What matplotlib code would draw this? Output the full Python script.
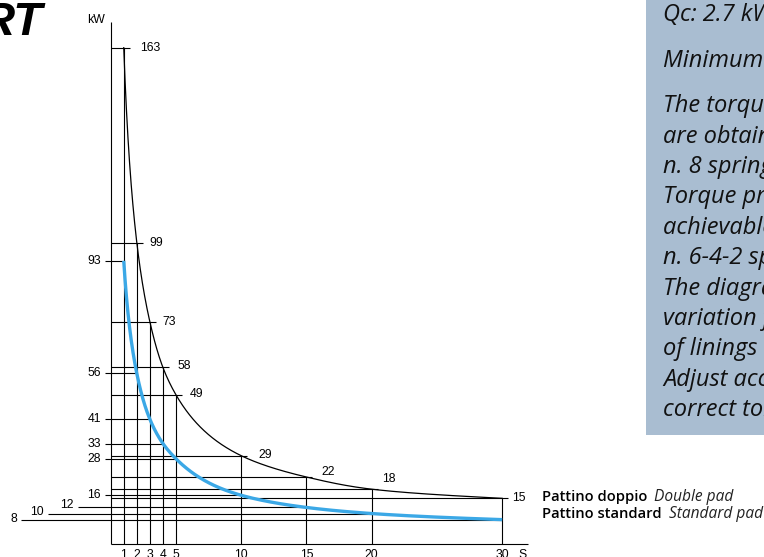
import numpy as np
import matplotlib
matplotlib.use('Agg')
import matplotlib.pyplot as plt
from matplotlib.patches import Rectangle

# ---------------- data ----------------
times = [1, 2, 3, 4, 5, 10, 15, 20, 30]                 # s
double_pad_kw = [163, 99, 73, 58, 49, 29, 22, 18, 15]   # Pattino doppio
standard_pad_kw = [93, 56, 41, 33, 28, 16, 12, 10, 8]   # Pattino standard
x_tick_labels = ['1', '2', '3', '4', '5', '10', '15', '20', '30']

box_lines = [
    "Qc: 2.7 kW/s",
    "Minimum clearance",
    "The torque values shown",
    "are obtained with",
    "n. 8 springs.",
    "Torque proportionally",
    "achievable with",
    "n. 6-4-2 springs.",
    "The diagram shows the",
    "variation for the type",
    "of linings used.",
    "Adjust according to the",
    "correct torque.",
]

# ---------------- layout (pixels) ----------------
W, H, DPI = 764, 557, 100
X0_PX, X_SCALE = 110.7, 13.05    # px of t=0, px per second
Y0_PX, Y_SCALE = 544.0, 3.045    # px (from top) of 0 kW, px per kW

fig = plt.figure(figsize=(W / DPI, H / DPI), dpi=DPI)
ax = fig.add_axes([0, 0, 1, 1])
ax.set_xlim((0 - X0_PX) / X_SCALE, (W - X0_PX) / X_SCALE)
ax.set_ylim((Y0_PX - H) / Y_SCALE, Y0_PX / Y_SCALE)
ax.axis('off')


def xpx(px):
    return (px - X0_PX) / X_SCALE


def ypx(py):
    return (Y0_PX - py) / Y_SCALE


def dx(p):
    return p / X_SCALE


def dy(p):
    return p / Y_SCALE


NUM_FONT = dict(family=['Liberation Sans', 'DejaVu Sans'], fontsize=8.8, color='black')
LW = 0.8

# axes
ax.plot([0, 0], [0, ypx(22)], color='black', lw=LW, solid_capstyle='butt')
ax.plot([0, xpx(528)], [0, 0], color='black', lw=LW, solid_capstyle='butt')
ax.text(xpx(105), ypx(20), 'kW', ha='right', va='center', **NUM_FONT)
ax.text(xpx(523), ypx(549), 'S', ha='center', va='top', **NUM_FONT)

# x tick labels
for t, lab in zip(times, x_tick_labels):
    ax.text(t, ypx(549), lab, ha='center', va='top', **NUM_FONT)

# vertical lines up to double pad curve
for t, top in zip(times, double_pad_kw):
    ax.plot([t, t], [0, top], color='black', lw=LW, solid_capstyle='butt')

# double pad horizontal lines + labels (right side)
dp_label_dx = [16, 13, 13, 15, 14, 17, 15, 10, 10]
dp_label_dy = [0, 0, 0, 1, 1, 1, 5, 10, 0]
for t, v, ox, oy in zip(times, double_pad_kw, dp_label_dx, dp_label_dy):
    ax.plot([0, t + dx(6)], [v, v], color='black', lw=LW, solid_capstyle='butt')
    ax.text(t + dx(ox), v + dy(oy), str(v), ha='left', va='center', **NUM_FONT)

# standard pad horizontal lines + labels (left side)
sp_line_start = [105, 105, 105, 105, 105, 105, 78, 48, 21]
sp_label_dy = [0, 0, 0, 0, 0, 0, 2, 2, 1]
for t, v, sx, oy in zip(times, standard_pad_kw, sp_line_start, sp_label_dy):
    ax.plot([xpx(sx), t], [v, v], color='black', lw=LW, solid_capstyle='butt')
    ax.text(xpx(sx - 4), v + dy(oy), str(v), ha='right', va='center', **NUM_FONT)


# smooth curves (monotone cubic in log-log space, drawing only)
def pchip_curve(x, y, n=400):
    lx = np.log(np.asarray(x, float))
    ly = np.log(np.asarray(y, float))
    h = np.diff(lx)
    d = np.diff(ly) / h
    m = np.zeros_like(ly)
    for k in range(1, len(lx) - 1):
        if d[k - 1] * d[k] > 0:
            w1 = 2 * h[k] + h[k - 1]
            w2 = h[k] + 2 * h[k - 1]
            m[k] = (w1 + w2) / (w1 / d[k - 1] + w2 / d[k])
    m[0] = d[0]
    m[-1] = d[-1]
    xs = np.linspace(lx[0], lx[-1], n)
    idx = np.clip(np.searchsorted(lx, xs) - 1, 0, len(lx) - 2)
    t = (xs - lx[idx]) / h[idx]
    h00 = 2 * t**3 - 3 * t**2 + 1
    h10 = t**3 - 2 * t**2 + t
    h01 = -2 * t**3 + 3 * t**2
    h11 = t**3 - t**2
    ys = h00 * ly[idx] + h10 * h[idx] * m[idx] + h01 * ly[idx + 1] + h11 * h[idx] * m[idx + 1]
    return np.exp(xs), np.exp(ys)


cx, cy = pchip_curve(times, double_pad_kw)
ax.plot(cx, cy, color='black', lw=0.9, zorder=3)
bx, by = pchip_curve(times, standard_pad_kw)
ax.plot(bx, by, color='#3ba8e6', lw=2.4, solid_capstyle='butt', zorder=4)

# title fragment
ax.text(xpx(42), ypx(23), 'RT', ha='right', va='center', fontsize=34,
        fontweight='bold', style='italic',
        family=['Liberation Sans Narrow', 'Liberation Sans', 'DejaVu Sans'])

# info box
ax.add_patch(Rectangle((xpx(646), ypx(435)), xpx(W + 5) - xpx(646), ypx(-5) - ypx(435),
                       facecolor='#a9bdd1', edgecolor='none', zorder=0))
box_y = [15, 61, 106, 137, 167, 197, 228, 258, 289, 319, 349, 380, 410]
for line, yy in zip(box_lines, box_y):
    ax.text(xpx(663), ypx(yy), line, ha='left', va='center', fontsize=17,
            style='italic', family=['Open Sans', 'DejaVu Sans'], color='#111111')

# legend
fig.canvas.draw()
renderer = fig.canvas.get_renderer()
for name, desc, yy in [('Pattino doppio', 'Double pad', 497),
                       ('Pattino standard', 'Standard pad', 514)]:
    t1 = ax.text(xpx(542), ypx(yy), name, ha='left', va='center', fontsize=10.6,
                 fontweight='semibold', family=['Open Sans', 'DejaVu Sans'], color='black')
    bb = t1.get_window_extent(renderer)
    x_end = bb.x1  # display px
    ax.text(xpx(x_end + 7), ypx(yy), desc, ha='left', va='center', fontsize=11.2,
            style='italic', family=['Open Sans', 'DejaVu Sans'], color='#222222')

fig.savefig('out.png', dpi=DPI)
